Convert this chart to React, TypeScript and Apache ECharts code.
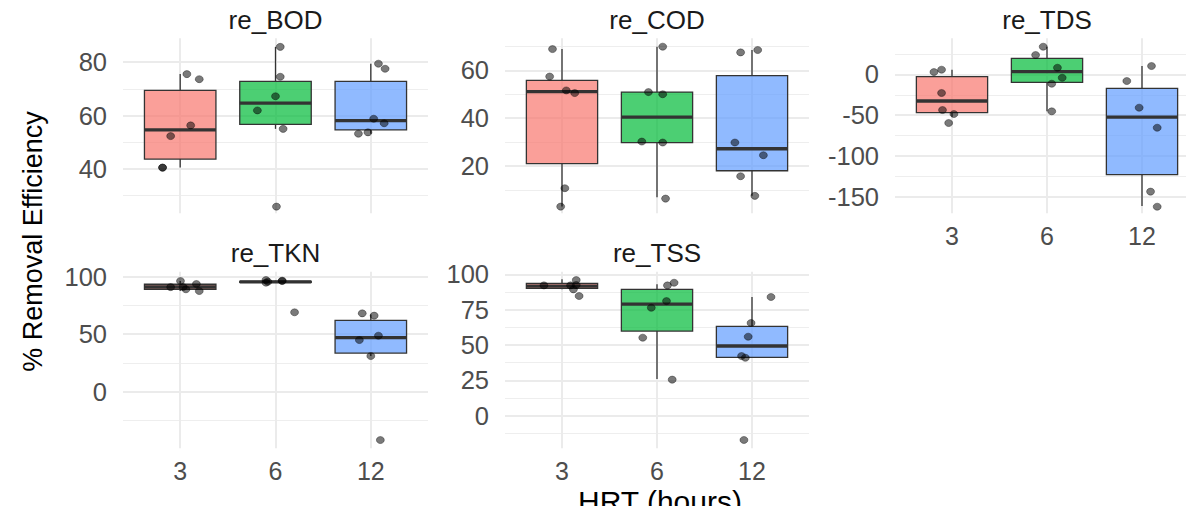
import React, { useEffect, useRef } from "react";
import * as echarts from "echarts";

// ---------- data ----------
const categories = ["3", "6", "12"];
const facetNames = ["re_BOD", "re_COD", "re_TDS", "re_TKN", "re_TSS"];
const xTitle = "HRT (hours)";
const yTitle = "% Removal Efficiency";

// box statistics per HRT group: [lower whisker, Q1, median, Q3, upper whisker]
const bodBox = [[40.5, 43.7, 54.6, 69.4, 75.5], [55.0, 56.7, 64.6, 72.8, 85.7], [53.2, 54.6, 58.1, 72.8, 79.4]];
const codBox = [[3.0, 21.0, 51.1, 55.8, 68.9], [6.9, 29.8, 40.4, 50.9, 69.9], [7.5, 18.0, 27.2, 57.8, 68.5]];
const tdsBox = [[-51.9, -47.0, -32.6, -2.8, 5.8], [-45.3, -9.7, 3.3, 19.7, 34.0], [-161.4, -123.0, -52.3, -17.1, 10.3]];
const tknBox = [[87.5, 89.0, 91.0, 93.4, 96.2], [94.8, 95.0, 95.4, 95.8, 96.5], [31.0, 33.6, 47.0, 62.0, 67.0]];
const tssBox = [[89.4, 90.1, 91.7, 93.6, 96.5], [25.9, 59.9, 79.0, 89.4, 93.0], [41.0, 41.3, 49.3, 63.2, 84.0]];

// individual (jittered) observations per HRT group
const bodPoints = [[75.5, 73.6, 56.3, 52.3, 40.5, 40.5], [85.7, 74.5, 67.2, 61.9, 55.0, 25.9], [79.4, 77.5, 58.8, 57.1, 53.2, 53.7]];
const bodJitter = [[0.07, 0.2, 0.11, -0.1, -0.185, -0.185], [0.05, 0.05, 0, -0.19, 0.08, 0.01], [0.08, 0.15, 0.03, 0.14, -0.13, -0.03]];
const codPoints = [[68.9, 57.4, 51.6, 50.5, 10.7, 3.0], [69.9, 50.9, 50.0, 30.2, 29.8, 6.35], [67.5, 68.5, 29.8, 24.5, 15.7, 7.5]];
const codJitter = [[-0.1, -0.13, 0.045, 0.134, 0.03, -0.014], [0.06, -0.09, 0.06, -0.16, 0.06, 0.09], [-0.12, 0.06, -0.18, 0.12, -0.12, 0.03]];
const tdsPoints = [[2.9, 5.8, -22.8, -43.7, -48.6, -59.6], [34.0, 23.8, 8.2, -4.1, -11.4, -45.3], [10.3, -8.1, -40.8, -65.4, -143.8, -162.3]];
const tdsJitter = [[-0.19, -0.11, -0.11, -0.1, 0.02, -0.035], [-0.04, -0.12, 0.11, 0.16, 0.05, 0.05], [0.1, -0.16, -0.03, 0.16, 0.09, 0.16]];
const tknPoints = [[96.2, 93.6, 90.9, 89.0, 87.5, 91.0], [97.1, 94.8, 96.5, 96.2, 69.0, 95.6], [68.1, 66.1, 48.7, 44.9, 31.0, -42.0]];
const tknJitter = [[0.003, 0.17, -0.1, 0.06, 0.2, 0.03], [-0.1, -0.1, 0.07, 0.07, 0.2, -0.08], [-0.09, 0.035, 0.08, -0.12, 0, 0.1]];
const tssPoints = [[92.2, 96.0, 92.2, 92.5, 89.4, 84.7], [94.1, 92.2, 81.1, 76.4, 55.2, 25.5], [84.0, 65.6, 55.9, 42.2, 41.0, -17.2]];
const tssJitter = [[-0.19, 0.15, 0.09, 0.15, 0.12, 0.18], [0.18, 0.11, 0.1, -0.06, -0.15, 0.16], [0.2, -0.01, -0.04, -0.11, -0.07, -0.085]];

// y ranges and tick values per facet
const bodRange = [23.4, 88.9];
const codRange = [0.2, 73.4];
const tdsRange = [-170.4, 44.3];
const tknRange = [-49.2, 104.3];
const tssRange = [-23.1, 101.9];
const bodTicks = [40, 60, 80];
const codTicks = [20, 40, 60];
const tdsTicks = [-150, -100, -50, 0];
const tknTicks = [0, 50, 100];
const tssTicks = [0, 25, 50, 75, 100];
const bodMinor = [30, 50, 70];
const codMinor = [10, 30, 50, 70];
const tdsMinor = [-125, -75, -25, 25];
const tknMinor = [-25, 25, 75];
const tssMinor = [-12.5, 12.5, 37.5, 62.5, 87.5];

// ---------- styling ----------
const FONT = "'Liberation Sans', Arial, Helvetica, sans-serif";
const fills = ["rgba(248,118,109,0.7)", "rgba(0,186,56,0.7)", "rgba(97,156,255,0.7)"];
const gridRects = [
  { left: 123, top: 38.3, width: 305, height: 175 },
  { left: 505, top: 38.3, width: 304, height: 175 },
  { left: 895, top: 38.3, width: 304, height: 175 },
  { left: 123, top: 271.7, width: 305, height: 176.6 },
  { left: 505, top: 271.7, width: 304, height: 176.6 },
];
const showXLabels = [false, false, true, true, true];

const facets = [
  { box: bodBox, pts: bodPoints, jit: bodJitter, range: bodRange, ticks: bodTicks, minor: bodMinor },
  { box: codBox, pts: codPoints, jit: codJitter, range: codRange, ticks: codTicks, minor: codMinor },
  { box: tdsBox, pts: tdsPoints, jit: tdsJitter, range: tdsRange, ticks: tdsTicks, minor: tdsMinor },
  { box: tknBox, pts: tknPoints, jit: tknJitter, range: tknRange, ticks: tknTicks, minor: tknMinor },
  { box: tssBox, pts: tssPoints, jit: tssJitter, range: tssRange, ticks: tssTicks, minor: tssMinor },
];

function buildOption() {
  const grid: any[] = [];
  const xAxis: any[] = [];
  const yAxis: any[] = [];
  const series: any[] = [];
  const graphic: any[] = [];

  facets.forEach((f, i) => {
    grid.push({ ...gridRects[i], containLabel: false, outerBoundsMode: "none" });
    xAxis.push({
      type: "value",
      gridIndex: i,
      min: 0.4,
      max: 3.6,
      axisLine: { show: false },
      axisTick: { show: false },
      splitLine: { show: false },
      minorSplitLine: { show: false },
      axisLabel: {
        show: showXLabels[i],
        customValues: [1, 2, 3],
        hideOverlap: false,
        margin: 10,
        fontSize: 25,
        fontFamily: FONT,
        color: "#4D4D4D",
        formatter: (v: number) => (Math.abs(v - Math.round(v)) < 1e-6 && v >= 1 && v <= 3 ? categories[Math.round(v) - 1] : ""),
      },
    });
    yAxis.push({
      type: "value",
      gridIndex: i,
      min: f.range[0],
      max: f.range[1],
      axisLine: { show: false },
      axisTick: { show: false },
      splitLine: { show: false },
      axisLabel: {
        customValues: f.ticks,
        hideOverlap: false,
        margin: 16,
        fontSize: 25.5,
        fontFamily: FONT,
        color: "#4D4D4D",
        formatter: (v: number) => (f.ticks.some((t) => Math.abs(t - v) < 1e-6) ? String(v) : ""),
      },
    });

    const lineData: any[] = [];
    f.minor.forEach((v) => lineData.push({ yAxis: v, lineStyle: { color: "#EEEEEE", width: 1, type: "solid" } }));
    f.ticks.forEach((v) => lineData.push({ yAxis: v, lineStyle: { color: "#EBEBEB", width: 2, type: "solid" } }));
    [1, 2, 3].forEach((x) => lineData.push({ xAxis: x, lineStyle: { color: "#EBEBEB", width: 2, type: "solid" } }));

    series.push({
      type: "scatter",
      xAxisIndex: i,
      yAxisIndex: i,
      data: [],
      z: 0,
      silent: true,
      markLine: {
        z: 0,
        silent: true,
        symbol: ["none", "none"],
        label: { show: false },
        emphasis: { disabled: true },
        animation: false,
        lineStyle: { type: "solid" },
        data: lineData,
      },
    });

    series.push({
      type: "custom",
      xAxisIndex: i,
      yAxisIndex: i,
      z: 2,
      silent: true,
      encode: { x: 0, y: [1, 2, 3, 4, 5] },
      data: f.box.map((b, j) => [j + 1, ...b]),
      renderItem: (params: any, api: any) => {
        const x = api.value(0);
        const lo = api.value(1), q1 = api.value(2), med = api.value(3), q3 = api.value(4), hi = api.value(5);
        const w = 0.375;
        const tl = api.coord([x - w, q3]);
        const br = api.coord([x + w, q1]);
        const pHi = api.coord([x, hi]);
        const pQ3 = api.coord([x, q3]);
        const pQ1 = api.coord([x, q1]);
        const pLo = api.coord([x, lo]);
        const mL = api.coord([x - w, med]);
        const mR = api.coord([x + w, med]);
        const stroke = "#333333";
        return {
          type: "group",
          children: [
            { type: "line", shape: { x1: pHi[0], y1: pHi[1], x2: pQ3[0], y2: pQ3[1] }, style: { stroke, lineWidth: 1.3 } },
            { type: "line", shape: { x1: pQ1[0], y1: pQ1[1], x2: pLo[0], y2: pLo[1] }, style: { stroke, lineWidth: 1.3 } },
            {
              type: "rect",
              shape: { x: tl[0], y: tl[1], width: br[0] - tl[0], height: br[1] - tl[1] },
              style: { fill: fills[params.dataIndex], stroke, lineWidth: 1.3 },
            },
            { type: "line", shape: { x1: mL[0], y1: mL[1], x2: mR[0], y2: mR[1] }, style: { stroke, lineWidth: 3.3 } },
          ],
        };
      },
    });

    const pts: any[] = [];
    f.pts.forEach((arr, j) => arr.forEach((v, k) => pts.push([j + 1 + f.jit[j][k], v])));
    series.push({
      type: "scatter",
      xAxisIndex: i,
      yAxisIndex: i,
      z: 3,
      silent: true,
      symbol: "circle",
      symbolSize: [8, 7],
      itemStyle: { color: "rgba(0,0,0,0.52)", borderColor: "rgba(0,0,0,0.4)", borderWidth: 0.9, opacity: 1 },
      data: pts,
    });

    const g = gridRects[i];
    graphic.push({
      type: "text",
      x: g.left + g.width / 2,
      y: i < 3 ? 19.5 : 253,
      style: {
        text: facetNames[i],
        font: `26px ${FONT}`,
        fill: "#1A1A1A",
        textAlign: "center",
        textVerticalAlign: "middle",
        align: "center",
        verticalAlign: "middle",
      },
    });
  });

  graphic.push({
    type: "text",
    x: 33,
    y: 241.5,
    rotation: Math.PI / 2,
    style: {
      text: yTitle,
      font: `27px ${FONT}`,
      fill: "#000000",
      textAlign: "center",
      textVerticalAlign: "middle",
      align: "center",
      verticalAlign: "middle",
    },
  });
  graphic.push({
    type: "text",
    x: 660,
    y: 501,
    style: {
      text: xTitle,
      font: `30px ${FONT}`,
      fill: "#000000",
      textAlign: "center",
      textVerticalAlign: "middle",
      align: "center",
      verticalAlign: "middle",
    },
  });

  return {
    animation: false,
    backgroundColor: "#ffffff",
    grid,
    xAxis,
    yAxis,
    series,
    graphic,
  };
}

export default function App() {
  const ref = useRef<HTMLDivElement>(null);
  useEffect(() => {
    if (!ref.current) return;
    const chart = echarts.init(ref.current, undefined, { renderer: "svg" });
    chart.setOption(buildOption() as any);
    return () => chart.dispose();
  }, []);
  return (
    <div
      ref={ref}
      style={{ position: "fixed", left: 0, top: 0, width: 1186, height: 506, background: "#ffffff", overflow: "hidden" }}
    />
  );
}
